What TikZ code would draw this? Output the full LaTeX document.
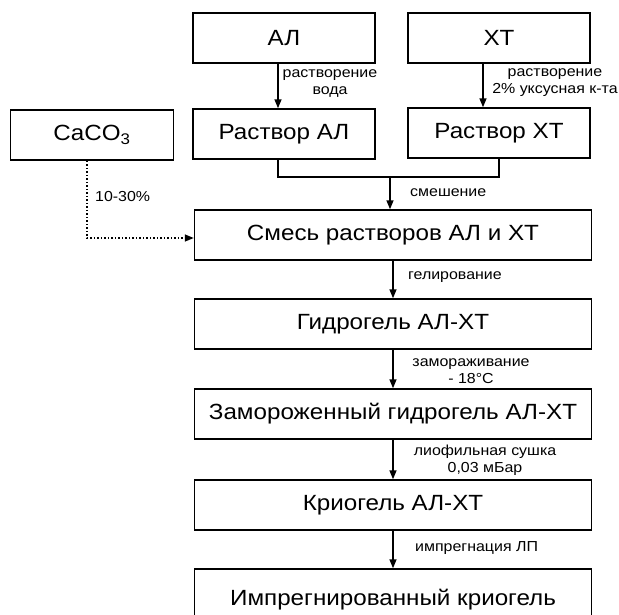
\documentclass[tikz,border=0pt]{standalone}
\usepackage{fontspec}
\setmainfont{Liberation Sans}[FakeStretch=1.1]
\usetikzlibrary{arrows.meta}

\begin{document}
\begin{tikzpicture}[x=1pt, y=-1pt,
      box/.style={draw, line width=1.5pt, minimum width=182pt, minimum height=50pt, inner sep=0pt, font=\fontsize{22}{24}\selectfont},
      wide/.style={box, minimum width=397pt},
      lbl/.style={font=\fontsize{14.5}{17}\selectfont, align=center, inner sep=0pt},
      arr/.style={line width=1.5pt, -{Triangle[length=9pt,width=7pt]}},
      dotarr/.style={arr, dotted}
    ]
      \useasboundingbox (0,0) rectangle (619,614);
      \clip (0,0) rectangle (619,614);

      % Starting materials
      \node[box] (al) at (284,38) {АЛ};
      \node[box] (xt) at (499,38) {ХТ};
      \node[box, minimum width=163pt] (caco) at (92,135) {CaCO\textsubscript{3}};
      \node[box] (ral) at (284,134) {Раствор АЛ};
      \node[box] (rxt) at (499,133) {Раствор ХТ};

      % Main column
      \node[wide] (mix) at (393,235) {Смесь растворов АЛ и ХТ};
      \node[wide] (hyd) at (393,324) {Гидрогель АЛ-ХТ};
      \node[wide] (frz) at (393,414) {Замороженный гидрогель АЛ-ХТ};
      \node[wide] (cry) at (393,505) {Криогель АЛ-ХТ};
      \node[wide, minimum height=62pt] (imp) at (393,600) {Импрегнированный криогель};
      \coordinate (jn) at (390,177);

      % Labels
      \node[lbl] (ldis1) at (330,84) {растворение\\вода};
      \node[lbl] (ldis2) at (555,83) {растворение\\2\% уксусная к-та};
      \node[lbl, anchor=west] (lmix) at (410,193) {смешение};
      \node[lbl, anchor=west] (lca) at (95,197) {10-30\%};
      \node[lbl, anchor=west] (lgel) at (408,277) {гелирование};
      \node[lbl] (lfrz) at (471,371) {замораживание\\- 18°C};
      \node[lbl] (ldry) at (485,460) {лиофильная сушка\\0,03 мБар};
      \node[lbl, anchor=west] (limp) at (415,548) {импрегнация ЛП};

      % Connectors
      \draw[arr] ([xshift=-6pt]al.south) -- ([xshift=-6pt]ral.north);
      \draw[arr] ([xshift=-16pt]xt.south) -- ([xshift=-16pt]rxt.north);
      \draw[line width=1.5pt] ([xshift=-6pt]ral.south) |- (jn) -| (rxt.south);
      \draw[arr] (jn) -- (jn |- mix.north);
      \draw[dotarr] ([xshift=-5pt]caco.south) |- ([yshift=-3pt]mix.west);
      \draw[arr] (mix) -- (hyd);
      \draw[arr] (hyd) -- (frz);
      \draw[arr] (frz) -- (cry);
      \draw[arr] (cry) -- (imp);
    \end{tikzpicture}
\end{document}
